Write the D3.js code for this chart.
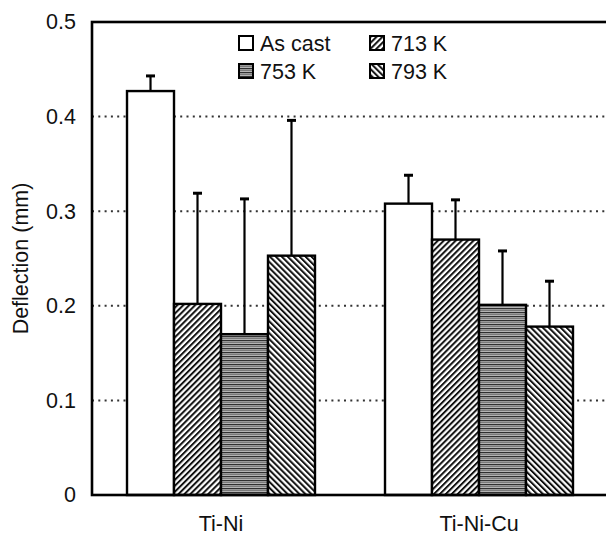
<!DOCTYPE html>
<html>
<head>
<meta charset="utf-8">
<script src="https://cdn.jsdelivr.net/npm/d3@7"></script>
<style>
  body { margin: 0; background: #fff; }
  svg { display: block; font-family: "Liberation Sans", Arial, sans-serif; }
</style>
</head>
<body>
<div id="chart"></div>
<script>
// alloys along the x axis, heat treatments as series
const alloys = ["Ti-Ni", "Ti-Ni-Cu"];
const series = ["As cast", "713 K", "753 K", "793 K"];
const tiNi = [0.427, 0.202, 0.170, 0.253];
const tiNiCu = [0.308, 0.270, 0.201, 0.178];
// upper end of the error bars
const tiNiErrTop = [0.443, 0.319, 0.313, 0.396];
const tiNiCuErrTop = [0.338, 0.312, 0.258, 0.226];
const yTicks = [0, 0.1, 0.2, 0.3, 0.4, 0.5];

const W = 606, H = 544;
const margin = { top: 22, right: -2, bottom: 49, left: 92 };
const FS = 21.5;

const svg = d3.select("#chart").append("svg")
    .attr("width", W)
    .attr("height", H);

// fill patterns
const defs = svg.append("defs");
function hatch(id, angle) {
    const p = defs.append("pattern")
        .attr("id", id)
        .attr("patternUnits", "userSpaceOnUse")
        .attr("width", 4.2).attr("height", 4.2)
        .attr("patternTransform", `rotate(${angle})`);
    p.append("rect").attr("width", 4.2).attr("height", 4.2).attr("fill", "#fff");
    p.append("line").attr("x1", 1).attr("x2", 1).attr("y1", 0).attr("y2", 4.2)
        .attr("stroke", "#111").attr("stroke-width", 2);
}
hatch("p713", 45);
hatch("p793", -45);
const ph = defs.append("pattern")
    .attr("id", "p753")
    .attr("patternUnits", "userSpaceOnUse")
    .attr("width", 6).attr("height", 4);
ph.append("rect").attr("width", 6).attr("height", 4).attr("fill", "#b4b4b4");
ph.append("rect").attr("y", 0).attr("width", 6).attr("height", 1.2).attr("fill", "#303030");
ph.append("rect").attr("y", 2).attr("width", 6).attr("height", 1).attr("fill", "#7a7a7a");

const fills = {
    "As cast": "#fff",
    "713 K": "url(#p713)",
    "753 K": "url(#p753)",
    "793 K": "url(#p793)"
};

const x0 = d3.scaleBand()
    .domain(alloys)
    .range([margin.left, W - margin.right])
    .padding(0);
const x1 = d3.scaleBand()
    .domain(series)
    .range([0, x0.bandwidth()])
    .paddingInner(0)
    .paddingOuter(0.745);
const y = d3.scaleLinear()
    .domain([0, 0.5])
    .range([H - margin.bottom, margin.top]);

const data = [];
alloys.forEach((a, i) => {
    const vals = i === 0 ? tiNi : tiNiCu;
    const tops = i === 0 ? tiNiErrTop : tiNiCuErrTop;
    series.forEach((s, j) => data.push({ alloy: a, series: s, value: vals[j], top: tops[j] }));
});

// dotted grid
svg.append("g")
    .selectAll("line")
    .data(yTicks.filter(d => d > 0 && d < 0.5))
    .join("line")
    .attr("x1", margin.left)
    .attr("x2", W)
    .attr("y1", d => y(d))
    .attr("y2", d => y(d))
    .attr("stroke", "#333")
    .attr("stroke-width", 2)
    .attr("stroke-dasharray", "2,4.3");

// error bars (upper only)
const cx = d => x0(d.alloy) + x1(d.series) + x1.bandwidth() / 2;
const err = svg.append("g");
err.selectAll("line.stem")
    .data(data)
    .join("line")
    .attr("class", "stem")
    .attr("x1", cx)
    .attr("x2", cx)
    .attr("y1", d => y(d.value))
    .attr("y2", d => y(d.top))
    .attr("stroke", "#000")
    .attr("stroke-width", 2.2);
err.selectAll("line.cap")
    .data(data)
    .join("line")
    .attr("class", "cap")
    .attr("x1", d => cx(d) - 4.5)
    .attr("x2", d => cx(d) + 4.5)
    .attr("y1", d => y(d.top))
    .attr("y2", d => y(d.top))
    .attr("stroke", "#000")
    .attr("stroke-width", 3);

// bars
svg.append("g")
    .selectAll("rect")
    .data(data)
    .join("rect")
    .attr("x", d => x0(d.alloy) + x1(d.series))
    .attr("y", d => y(d.value))
    .attr("width", x1.bandwidth())
    .attr("height", d => y(0) - y(d.value))
    .attr("fill", d => fills[d.series])
    .attr("stroke", "#000")
    .attr("stroke-width", 2.4);

// frame
svg.append("rect")
    .attr("x", margin.left)
    .attr("y", margin.top)
    .attr("width", W - margin.right - margin.left)
    .attr("height", y(0) - margin.top)
    .attr("fill", "none")
    .attr("stroke", "#000")
    .attr("stroke-width", 2.6);

// y axis labels
const yAxis = svg.append("g")
    .attr("transform", `translate(${margin.left},0)`)
    .call(d3.axisLeft(y).tickValues(yTicks).tickSize(0).tickPadding(16)
        .tickFormat(d => d === 0 ? "0" : d3.format(".1f")(d)));
yAxis.select(".domain").remove();
yAxis.selectAll("text")
    .attr("font-size", FS)
    .attr("font-family", "Liberation Sans, Arial, sans-serif")
    .attr("fill", "#111");

// x axis labels
const xAxis = svg.append("g")
    .attr("transform", `translate(0,${y(0)})`)
    .call(d3.axisBottom(x0).tickSize(0).tickPadding(21));
xAxis.select(".domain").remove();
xAxis.selectAll("text")
    .attr("font-size", FS)
    .attr("font-family", "Liberation Sans, Arial, sans-serif")
    .attr("fill", "#111");

svg.append("text")
    .attr("transform", `translate(28,${(margin.top + y(0)) / 2}) rotate(-90)`)
    .attr("text-anchor", "middle")
    .attr("font-size", FS)
    .attr("fill", "#111")
    .text("Deflection (mm)");

// legend
const legendPos = [[239, 36], [370, 36], [239, 64], [370, 64]];
const legend = svg.append("g")
    .selectAll("g")
    .data(series)
    .join("g")
    .attr("transform", (d, i) => `translate(${legendPos[i][0]},${legendPos[i][1]})`);
legend.append("rect")
    .attr("width", 14).attr("height", 14)
    .attr("fill", d => fills[d])
    .attr("stroke", "#000")
    .attr("stroke-width", 2);
legend.append("text")
    .attr("x", 21)
    .attr("y", 14.5)
    .attr("font-size", FS)
    .attr("fill", "#111")
    .text(d => d);
</script>
</body>
</html>
